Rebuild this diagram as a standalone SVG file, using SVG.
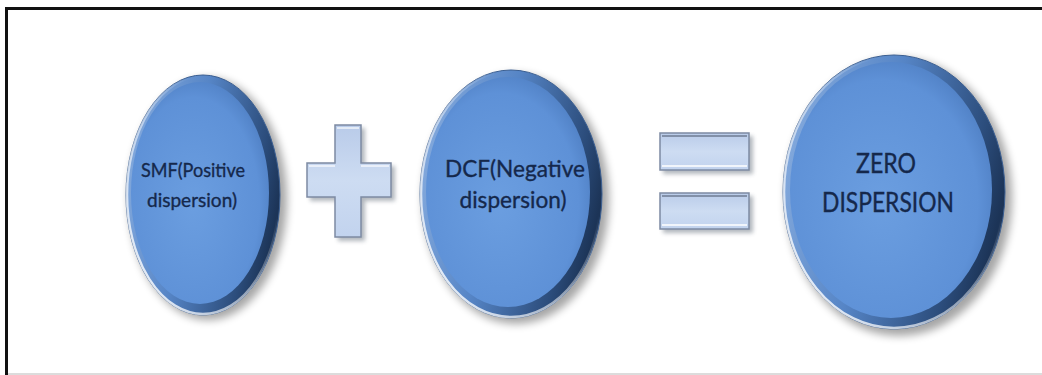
<svg xmlns="http://www.w3.org/2000/svg" width="1042" height="375" viewBox="0 0 1042 375">
  <defs>
    <filter id="blur" x="-20%" y="-20%" width="140%" height="140%">
      <feGaussianBlur stdDeviation="4"/>
    </filter>
    <filter id="blur2" x="-20%" y="-20%" width="140%" height="140%">
      <feGaussianBlur stdDeviation="2"/>
    </filter>
    <linearGradient id="rim" x1="0" y1="0.2" x2="1" y2="0.5">
      <stop offset="0" stop-color="#88addf"/>
      <stop offset="0.45" stop-color="#5685c6"/>
      <stop offset="0.85" stop-color="#2c4d7c"/>
      <stop offset="1" stop-color="#1c3457"/>
    </linearGradient>
    <linearGradient id="hl" x1="0" y1="1" x2="1" y2="0">
      <stop offset="0" stop-color="#ffffff" stop-opacity="0.95"/>
      <stop offset="0.45" stop-color="#ffffff" stop-opacity="0.5"/>
      <stop offset="0.7" stop-color="#ffffff" stop-opacity="0"/>
    </linearGradient>
    <radialGradient id="face" cx="0.45" cy="0.55" r="0.6">
      <stop offset="0" stop-color="#6b9ee0"/>
      <stop offset="0.8" stop-color="#5e91d7"/>
      <stop offset="1" stop-color="#4f7fc3"/>
    </radialGradient>
    <linearGradient id="sym" x1="0" y1="0" x2="0" y2="1">
      <stop offset="0" stop-color="#b9cbe9"/>
      <stop offset="0.5" stop-color="#cddcf2"/>
      <stop offset="1" stop-color="#c2d3ee"/>
    </linearGradient>
  </defs>
  <style>
    .lbl { font-family: "Lato", "Open Sans", sans-serif; fill: #15284b; stroke: #15284b; stroke-width: 0.35; text-anchor: middle; }
    .shadow { fill: #000; opacity: 0.35; filter: url(#blur); }
    .rim { fill: url(#rim); stroke: #3b5f92; stroke-width: 1; }
    .hl { fill: none; stroke: url(#hl); stroke-width: 2.5; }
    .face { fill: url(#face); }
    .symshadow { fill: #55606e; opacity: 0.45; filter: url(#blur2); }
    .symface { fill: url(#sym); stroke: #7d8ba3; stroke-width: 1.5; }
  </style>

  <rect x="0" y="0" width="1042" height="375" fill="#ffffff"/>
  <g id="frame">
    <rect x="5" y="7" width="1037" height="3" fill="#111"/>
    <rect x="5" y="7" width="3" height="368" fill="#111"/>
    <rect x="8" y="373" width="1034" height="2" fill="#dcdcdc"/>
  </g>

  <g id="node-smf">
    <ellipse class="shadow" cx="208" cy="199" rx="79" ry="121"/>
    <ellipse class="rim" cx="203" cy="195" rx="77" ry="120"/>
    <ellipse class="hl" cx="203" cy="195" rx="76" ry="119"/>
    <ellipse class="face" cx="200" cy="193" rx="69" ry="111"/>
    <text class="lbl" x="193" y="177" font-size="20" textLength="104" lengthAdjust="spacingAndGlyphs">SMF(Positive</text>
    <text class="lbl" x="192" y="207" font-size="20" textLength="90" lengthAdjust="spacingAndGlyphs">dispersion)</text>
  </g>

  <g id="node-plus">
    <path class="symshadow" d="M338 128 H365 V166 H395 V201 H365 V241 H338 V201 H310 V166 H338 Z"/>
    <path class="symface" d="M335 125 H361 V163 H391 V197 H361 V237 H335 V197 H307 V163 H335 Z"/>
    <path d="M337 128 H359 M309 166 H335 M361 166 H389" stroke="#ffffff" stroke-width="1.5" fill="none" opacity="0.8"/>
  </g>

  <g id="node-dcf">
    <ellipse class="shadow" cx="516" cy="199" rx="93" ry="125"/>
    <ellipse class="rim" cx="511" cy="194" rx="91" ry="124"/>
    <ellipse class="hl" cx="511" cy="194" rx="90" ry="123"/>
    <ellipse class="face" cx="508" cy="192" rx="82" ry="115"/>
    <text class="lbl" x="515" y="177" font-size="24" textLength="140" lengthAdjust="spacingAndGlyphs">DCF(Negative</text>
    <text class="lbl" x="513" y="208" font-size="24" textLength="107" lengthAdjust="spacingAndGlyphs">dispersion)</text>
  </g>

  <g id="node-equals">
    <rect class="symshadow" x="663" y="136" width="90" height="38"/>
    <rect class="symshadow" x="663" y="196" width="90" height="37"/>
    <rect class="symface" x="660" y="133" width="89" height="37"/>
    <rect class="symface" x="660" y="193" width="89" height="36"/>
    <path d="M662 136 H747 M662 196 H747" stroke="#6f7c92" stroke-width="1.5" fill="none"/>
    <path d="M662 166 H747 M662 225 H747" stroke="#ffffff" stroke-width="1.5" fill="none"/>
  </g>

  <g id="node-zero">
    <ellipse class="shadow" cx="899" cy="197" rx="113" ry="139"/>
    <ellipse class="rim" cx="894" cy="192" rx="111" ry="137"/>
    <ellipse class="hl" cx="894" cy="192" rx="110" ry="136"/>
    <ellipse class="face" cx="891" cy="190" rx="101" ry="128"/>
    <text class="lbl" x="886" y="173" font-size="26" textLength="60" lengthAdjust="spacingAndGlyphs">ZERO</text>
    <text class="lbl" x="888" y="212" font-size="26" textLength="132" lengthAdjust="spacingAndGlyphs">DISPERSION</text>
  </g>
</svg>
